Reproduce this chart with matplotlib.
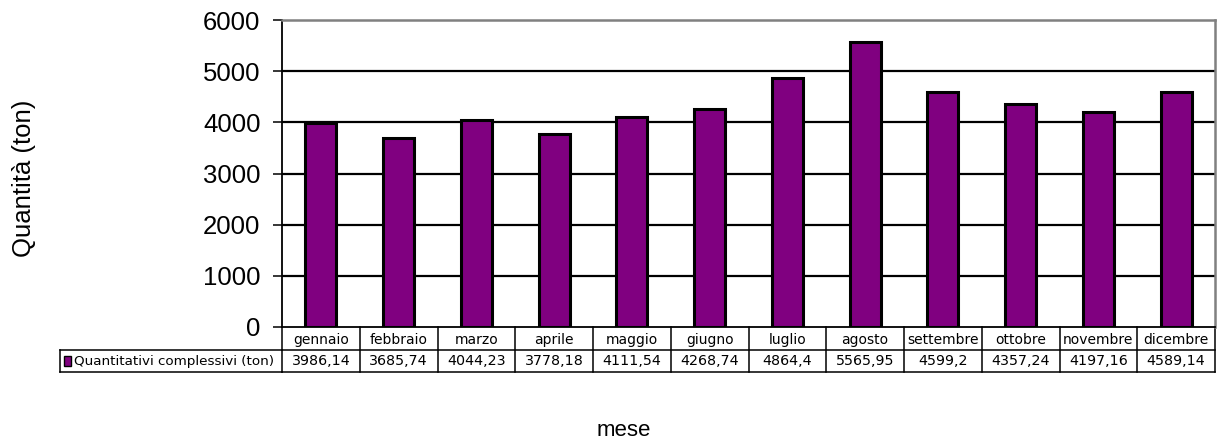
import matplotlib.pyplot as plt
from matplotlib.transforms import blended_transform_factory
from matplotlib.patches import Rectangle

plt.rcParams['font.family'] = ['Liberation Sans', 'DejaVu Sans']

mesi = ["gennaio", "febbraio", "marzo", "aprile", "maggio", "giugno",
        "luglio", "agosto", "settembre", "ottobre", "novembre", "dicembre"]
quantita = [3986.14, 3685.74, 4044.23, 3778.18, 4111.54, 4268.74,
            4864.4, 5565.95, 4599.2, 4357.24, 4197.16, 4589.14]
serie = "Quantitativi complessivi (ton)"
yticks = [0, 1000, 2000, 3000, 4000, 5000, 6000]

W, H = 1220, 443
fig = plt.figure(figsize=(W / 100, H / 100), dpi=100)
ax = fig.add_axes([282 / W, 1 - 327 / H, (1215 - 282) / W, (327 - 20) / H])

x = list(range(len(mesi)))
ax.bar(x, quantita, width=0.4, color="#800080", edgecolor="black", linewidth=2.2, zorder=3)

ax.set_xlim(-0.5, len(mesi) - 0.5)
ax.set_ylim(0, 6000)
ax.set_yticks(yticks)
ax.set_yticklabels([str(t) for t in yticks], fontsize=18.5)
ax.tick_params(axis="y", direction="out", length=6.5, width=1.1, pad=9)
ax.set_xticks([])
for v in yticks[1:-1]:
    ax.axhline(v, color="black", linewidth=1.6, zorder=1)
for s in ["top", "right"]:
    ax.spines[s].set_color("#808080")
    ax.spines[s].set_linewidth(1.8)
ax.spines["left"].set_linewidth(1.3)
ax.spines["bottom"].set_linewidth(1.3)

# table under the axis
tr = blended_transform_factory(ax.transData, fig.transFigure)
ff = fig.transFigure
y0, y1, y2 = 1 - 327 / H, 1 - 350 / H, 1 - 372 / H
lw = 1.1
tab_font = "DejaVu Sans"
xl, xr = -0.5, len(mesi) - 0.5
ax.plot([xl, xr], [y1, y1], transform=tr, color="black", lw=lw, clip_on=False)
ax.plot([xl, xr], [y2, y2], transform=tr, color="black", lw=lw, clip_on=False)
for i in range(len(mesi) + 1):
    ax.plot([i - 0.5, i - 0.5], [y0, y2], transform=tr, color="black", lw=lw, clip_on=False)
for i, (m, v) in enumerate(zip(mesi, quantita)):
    lab = f"{v:g}".replace(".", ",")
    ax.text(i, (y0 + y1) / 2 - 1.5 / H, m, transform=tr, fontsize=10, family=tab_font,
            ha="center", va="center", clip_on=False)
    ax.text(i, (y1 + y2) / 2, lab, transform=tr, fontsize=10.3, family=tab_font,
            ha="center", va="center", clip_on=False)

# legend cell of the table
fig.add_artist(plt.Line2D([60 / W, 282 / W], [y1, y1], transform=ff, color="black", lw=lw))
fig.add_artist(plt.Line2D([60 / W, 282 / W], [y2, y2], transform=ff, color="black", lw=lw))
fig.add_artist(plt.Line2D([60 / W, 60 / W], [y1, y2], transform=ff, color="black", lw=lw))
fig.add_artist(Rectangle((64 / W, 1 - 366 / H), 7 / W, 10 / H, transform=ff,
                         facecolor="#800080", edgecolor="black", lw=1))
fig.text(74 / W, (y1 + y2) / 2, serie, fontsize=9.7, family=tab_font, ha="left", va="center")

fig.text(24 / W, 1 - 178 / H, "Quantità (ton)", rotation=90, fontsize=18.5, ha="center", va="center")
fig.text(624 / W, 1 - 431 / H, "mese", fontsize=16, ha="center", va="center")

fig.savefig("out.png", dpi=100)
